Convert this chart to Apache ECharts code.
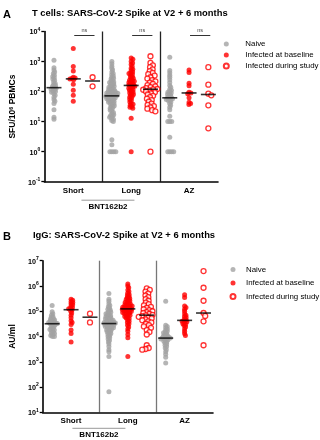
<!DOCTYPE html>
<html>
<head>
<meta charset="utf-8">
<script src="https://cdn.jsdelivr.net/npm/echarts@6/dist/echarts.min.js"></script>
<style>html,body{margin:0;padding:0;background:#fff}#c{width:320px;height:440px}</style>
</head>
<body>
<div id="c"></div>
<script>
// ---------- DATA ----------
const seriesNames = ['Naive', 'Infected at baseline', 'Infected during study'];
const groupLabels = ['Short', 'Long', 'AZ'];
const groupSuperLabel = 'BNT162b2';
const sigLabel = 'ns';

// Panel A: T cells, SFU/10^6 PBMCs
const tShortNaive = [1100, 620, 520, 450, 400, 350, 320, 290, 260, 240, 210, 190, 170, 160, 150, 140, 130, 125, 120, 115, 105, 100, 95, 85, 75, 65, 55, 48, 40, 25, 14, 12];
const tShortBase = [2700, 680, 480, 300, 285, 270, 260, 250, 175, 110, 75, 48];
const tShortDuring = [300, 150];
const tLongNaive = [1000, 850, 700, 600, 520, 450, 400, 360, 330, 300, 280, 260, 240, 220, 210, 200, 190, 180, 170, 160, 150, 145, 140, 130, 125, 120, 115, 110, 105, 100, 98, 95, 92, 90, 88, 85, 82, 80, 78, 76, 74, 72, 70, 68, 66, 64, 62, 60, 58, 56, 54, 52, 50, 48, 46, 44, 42, 40, 38, 36, 34, 32, 30, 28, 26, 24, 22, 20, 18, 17, 16, 15, 14, 13, 12, 11, 10, 2.5, 1.7, 1, 1, 1, 1];
const tLongBase = [1300, 1200, 1000, 900, 800, 700, 600, 550, 500, 450, 420, 400, 380, 350, 320, 300, 280, 260, 240, 230, 220, 210, 200, 190, 180, 170, 165, 160, 150, 145, 140, 130, 120, 115, 110, 100, 95, 90, 85, 80, 75, 70, 65, 60, 55, 50, 45, 40, 38, 35, 32, 30, 28, 13, 1];
const tLongDuring = [1500, 900, 750, 650, 550, 480, 420, 380, 340, 300, 270, 240, 220, 200, 180, 165, 150, 140, 130, 122, 118, 115, 110, 100, 95, 88, 80, 72, 65, 58, 52, 46, 40, 36, 33, 30, 27, 24, 22, 1];
const tAzNaive = [1400, 500, 420, 350, 300, 250, 200, 160, 140, 120, 110, 100, 95, 90, 85, 80, 75, 70, 65, 62, 60, 58, 55, 52, 50, 45, 40, 35, 30, 25, 15, 10, 10, 10, 3, 1, 1, 1, 1];
const tAzBase = [520, 430, 190, 155, 95, 90, 85, 62, 44, 40, 37];
const tAzDuring = [650, 170, 85, 75, 35, 6];

// Panel B: IgG, AU/ml
const bShortNaive = [170000, 95000, 80000, 70000, 62000, 57000, 52000, 48000, 45000, 42000, 40000, 38000, 36000, 35000, 34000, 33000, 32000, 30000, 28000, 26000, 24000, 22000, 20000, 19000, 18000, 17000, 15000, 14000, 13000, 12000, 11000, 10000, 10000];
const bShortBase = [300000, 270000, 240000, 220000, 200000, 180000, 160000, 140000, 130000, 125000, 115000, 100000, 85000, 70000, 55000, 42000, 36000, 30000, 18000, 13000, 6000];
const bShortDuring = [80000, 36000];
const bLongNaive = [500000, 300000, 250000, 200000, 170000, 150000, 130000, 120000, 110000, 100000, 92000, 85000, 80000, 75000, 70000, 66000, 62000, 58000, 55000, 52000, 50000, 48000, 46000, 44000, 42000, 40000, 39000, 38000, 37000, 36000, 35000, 34000, 33000, 32000, 31000, 30000, 29000, 28000, 27000, 26000, 25000, 24000, 23000, 22000, 21000, 20000, 19000, 18000, 17000, 16000, 15000, 14000, 13000, 12000, 11000, 10000, 9000, 8000, 7000, 6000, 5000, 4000, 3000, 2500, 1600, 65];
const bLongBase = [1200000, 1000000, 850000, 700000, 600000, 520000, 460000, 420000, 380000, 350000, 320000, 300000, 280000, 260000, 240000, 225000, 210000, 200000, 190000, 180000, 170000, 165000, 160000, 155000, 150000, 145000, 140000, 135000, 130000, 126000, 122000, 118000, 114000, 110000, 106000, 102000, 98000, 94000, 90000, 86000, 82000, 78000, 74000, 70000, 66000, 62000, 58000, 54000, 50000, 45000, 40000, 36000, 32000, 28000, 24000, 20000, 16000, 12000, 9000, 1600];
const bLongDuring = [800000, 700000, 600000, 500000, 420000, 360000, 300000, 260000, 220000, 190000, 170000, 150000, 135000, 120000, 110000, 100000, 92000, 85000, 78000, 72000, 68000, 64000, 60000, 56000, 52000, 48000, 44000, 40000, 36000, 32000, 28000, 25000, 22000, 18000, 15000, 12000, 4500, 3500, 3200, 3000];
const bAzNaive = [250000, 28000, 25000, 22000, 20000, 18000, 16000, 15000, 14000, 13000, 12000, 11000, 10500, 10000, 9500, 9000, 8800, 8500, 8200, 8000, 7500, 7000, 6500, 6000, 5500, 5000, 4500, 4000, 3500, 3000, 2500, 2000, 1500, 900];
const bAzBase = [450000, 350000, 160000, 140000, 120000, 100000, 80000, 70000, 62000, 56000, 50000, 45000, 42000, 40000, 38000, 35000, 32000, 30000, 27000, 24000, 20000, 16000, 13000, 11000];
const bAzDuring = [3900000, 850000, 260000, 85000, 65000, 40000, 4500];

// ---------- LAYOUT ----------
const FONT = 'Liberation Sans, Arial, Helvetica, sans-serif';
const GRAY = '#a2a2a2', RED = '#ff0000';
const panels = [
  { key: 'A', title: 'T cells: SARS-CoV-2 Spike at V2 + 6 months', yName: 'SFU/10{s|6} PBMCs',
    grid: { left: 42.7, right: 102, top: 31.5, bottom: 258.3 }, ymin: 0.1, ymax: 10000,
    groups: [[tShortNaive, tShortBase, tShortDuring], [tLongNaive, tLongBase, tLongDuring], [tAzNaive, tAzBase, tAzDuring]],
    nsY: 7600, divColor: '#222', nameGap: 27 },
  { key: 'B', title: 'IgG: SARS-CoV-2 Spike at V2 + 6 months', yName: 'AU/ml',
    grid: { left: 39, right: 107, top: 260.7, bottom: 27.7 }, ymin: 10, ymax: 1e7,
    groups: [[bShortNaive, bShortBase, bShortDuring], [bLongNaive, bLongBase, bLongDuring], [bAzNaive, bAzBase, bAzDuring]],
    nsY: 1.25e7, divColor: '#777', nameGap: 24 }
];

function median(a) {
  const s = a.slice().sort((x, y) => x - y), n = s.length;
  return n % 2 ? s[(n - 1) / 2] : (s[n / 2 - 1] + s[n / 2]) / 2;
}
// deterministic beeswarm layout in pixel space
function swarm(values, center, pxPerDec, pxPerUnit, dist) {
  const pts = values.map(v => ({ v, y: Math.log10(v) * pxPerDec })).sort((a, b) => b.y - a.y);
  const placed = [], out = [];
  for (const p of pts) {
    const cands = [0];
    for (const q of placed) {
      const dy = p.y - q.y;
      if (Math.abs(dy) < dist) {
        const dx = Math.sqrt(dist * dist - dy * dy);
        cands.push(q.x + dx, q.x - dx);
      }
    }
    cands.sort((a, b) => Math.abs(a) - Math.abs(b));
    let chosen = 0;
    for (const c of cands) {
      let ok = true;
      for (const q of placed) {
        const dx = c - q.x, dy = p.y - q.y;
        if (dx * dx + dy * dy < dist * dist - 1e-6) { ok = false; break; }
      }
      if (ok) { chosen = c; break; }
    }
    placed.push({ x: chosen, y: p.y });
    out.push([center + chosen / pxPerUnit, p.v]);
  }
  return out;
}

const option = { animation: false, textStyle: { fontFamily: FONT }, title: [], grid: [], xAxis: [], yAxis: [], series: [], legend: [], graphic: [] };
const W = 320, H = 440;
panels.forEach((P, pi) => {
  const g = P.grid;
  const gw = W - g.left - g.right, gh = H - g.top - g.bottom;
  const decades = Math.log10(P.ymax) - Math.log10(P.ymin);
  const pxDec = gh / decades, pxUnit = gw / 9;
  option.grid.push(g);
  option.title.push({ text: P.key, left: 3, top: pi === 0 ? 9 : 231, padding: 0, textStyle: { fontSize: 11, fontWeight: 'bold', color: '#000', fontFamily: FONT } });
  option.title.push({ text: P.title, left: pi === 0 ? 32 : 33, top: pi === 0 ? 9 : 231, padding: 0, textStyle: { fontSize: 9.4, fontWeight: 'bold', color: '#000', fontFamily: FONT } });
  // category axis for labels
  const cats = [];
  groupLabels.forEach(l => { cats.push(''); cats.push(l); cats.push(''); });
  option.xAxis.push({ type: 'category', gridIndex: pi, data: cats, position: 'bottom',
    axisLine: { lineStyle: { color: '#000', width: 1.6 } }, axisTick: { show: false },
    axisLabel: { interval: 0, fontSize: 8, fontWeight: 'bold', color: '#000', margin: pi === 0 ? 5 : 4, fontFamily: FONT } });
  // value axis for point placement + dividers
  option.xAxis.push({ type: 'value', gridIndex: pi, min: 0, max: 9, interval: 3, position: 'bottom',
    axisLine: { show: false }, axisTick: { show: false }, axisLabel: { show: false },
    splitLine: { show: true, showMinLine: false, showMaxLine: false, lineStyle: { color: P.divColor, width: 1.3 } } });
  option.yAxis.push({ type: 'log', gridIndex: pi, logBase: 10, min: P.ymin, max: P.ymax, interval: 1,
    name: P.yName, nameLocation: 'middle', nameRotate: 90, nameGap: P.nameGap,
    nameTextStyle: { fontSize: 8.5, fontWeight: 'bold', color: '#000', fontFamily: FONT,
      rich: { s: { fontSize: 5.5, fontWeight: 'bold', verticalAlign: 'top', lineHeight: 6 } } },
    axisLine: { show: true, lineStyle: { color: '#000', width: 1.6 } },
    axisTick: { show: true, length: 3, lineStyle: { color: '#000', width: 1.3 } },
    minorTick: { show: false }, splitLine: { show: false },
    axisLabel: { margin: 4, formatter: v => '{b|10}{s|' + Math.round(Math.log10(v)) + '}',
      rich: { b: { fontSize: 7.2, fontWeight: 'bold', color: '#000', fontFamily: FONT, verticalAlign: 'bottom', lineHeight: 9 },
              s: { fontSize: 5, fontWeight: 'bold', color: '#000', fontFamily: FONT, verticalAlign: 'top', lineHeight: 5 } } } });
  const xi = pi * 2 + 1;
  const sets = [[], [], []];
  const meds = [];
  P.groups.forEach((grp, gi) => {
    grp.forEach((vals, si) => {
      const center = gi * 3 + si + 0.5;
      const dist = si === 2 ? 3.4 : 2.0;
      sets[si].push(...swarm(vals, center, pxDec, pxUnit, dist));
      meds.push([center, median(vals)]);
    });
  });
  const styles = [
    { symbolSize: 5, itemStyle: { color: GRAY } },
    { symbolSize: 5, itemStyle: { color: RED } },
    { symbolSize: 5, itemStyle: { color: '#fff', borderColor: RED, borderWidth: 1.3 } }
  ];
  sets.forEach((d, si) => {
    option.series.push(Object.assign({ type: 'scatter', name: seriesNames[si], xAxisIndex: xi, yAxisIndex: pi, data: d, symbol: 'circle', z: 2 + si }, styles[si]));
  });
  option.series.push({ type: 'scatter', name: 'median', xAxisIndex: xi, yAxisIndex: pi, data: meds,
    symbol: 'rect', symbolSize: [15, 1.6], itemStyle: { color: '#000' }, z: 10, silent: true,
    markLine: { symbol: 'none', silent: true, animation: false,
      lineStyle: { color: '#333', width: 1, type: 'solid' },
      label: { show: true, position: 'middle', formatter: sigLabel, fontSize: 5.5, color: '#444', distance: 2, fontFamily: FONT },
      data: [0, 1, 2].map(gi => [{ coord: [gi * 3 + 1.55, P.nsY] }, { coord: [gi * 3 + 2.6, P.nsY] }]) } });
  option.legend.push({ data: seriesNames, orient: 'vertical', left: pi === 0 ? 222.8 : 229.5, top: pi === 0 ? 40 : 265.5,
    padding: 0, itemWidth: 5, itemHeight: 5, itemGap: pi === 0 ? 3 : 5.5, selectedMode: false,
    textStyle: { fontSize: 7.9, color: '#000', fontFamily: FONT, padding: [0, 0, 0, pi === 0 ? 11.5 : 5.5] } });
  // BNT162b2 group bracket under Short + Long
  const bx = g.left + (pi === 0 ? 3.35 : 3.1) * pxUnit;
  const by = H - g.bottom + (pi === 0 ? 18.5 : 16);
  option.graphic.push({ type: 'line', shape: { x1: bx - 26.5, y1: by, x2: bx + 26.5, y2: by }, style: { stroke: '#999', lineWidth: 1 } });
  option.graphic.push({ type: 'text', x: bx, y: by + 6.5, style: { text: groupSuperLabel, font: 'bold 8px ' + FONT, fill: '#000', textAlign: 'center', textVerticalAlign: 'middle' } });
});

const chart = echarts.init(document.getElementById('c'), null, { renderer: 'canvas' });
chart.setOption(option);
</script>
</body>
</html>
